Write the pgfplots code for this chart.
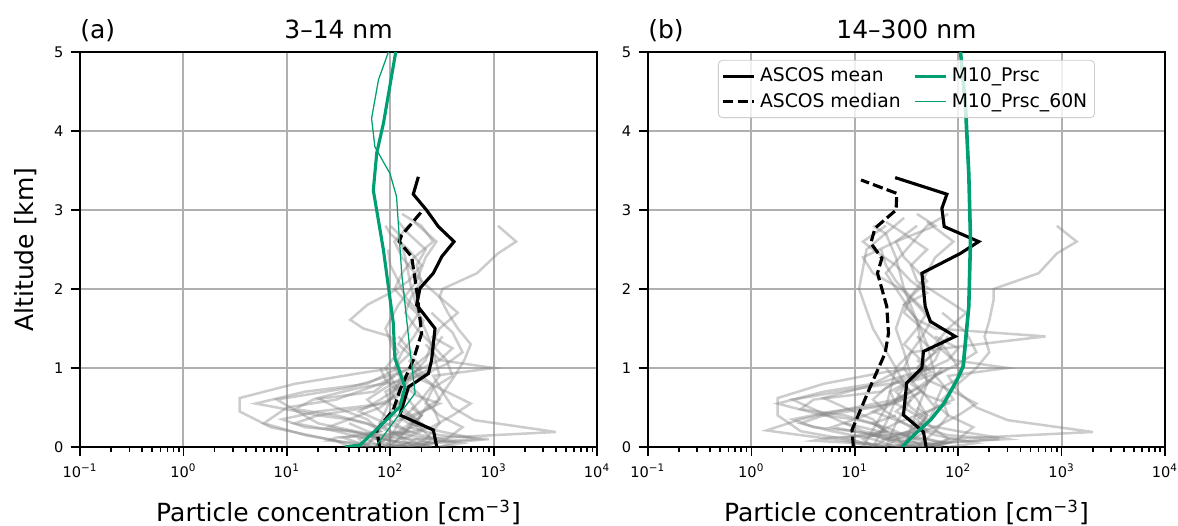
\documentclass[border=0pt]{standalone}
\usepackage{fontspec}
\setmainfont{DejaVu Sans}
\usepackage{pgfplots}
\pgfplotsset{compat=1.18}
\definecolor{mgreen}{RGB}{0,158,115}
\definecolor{gridgrey}{RGB}{176,176,176}

\newcommand\pw[1]{10\textsuperscript{#1}}

\tikzset{
  grl/.style={black!50, opacity=0.4, line width=1.2pt},
  meanl/.style={black, line width=1.5pt},
  medl/.style={black, line width=1.5pt, dash pattern=on 5pt off 2pt},
  mten/.style={mgreen, line width=1.5pt},
  msix/.style={mgreen, line width=0.6pt},
}
\pgfplotsset{
  scale only axis, width=248.2pt, height=189.6pt,
  xmin=0.1, xmax=10000, ymin=0, ymax=5,
  xtick={0.1,1,10,100,1000,10000},
  xticklabels={\pw{−1},\pw{0},\pw{1},\pw{2},\pw{3},\pw{4}},
  minor xtick={0.2,0.3,0.4,0.5,0.6,0.7,0.8,0.9,2,3,4,5,6,7,8,9,20,30,40,50,60,70,80,90,200,300,400,500,600,700,800,900,2000,3000,4000,5000,6000,7000,8000,9000},
  ytick={0,1,2,3,4,5}, yticklabels={0,1,2,3,4,5},
  xmajorgrids, ymajorgrids,
  grid style={gridgrey, line width=0.9pt},
  axis line style={black, line width=1pt},
  tick style={black, line width=0.8pt},
  tick align=outside, tick pos=left,
  major tick length=4.5pt, minor tick length=2.5pt,
  ticklabel style={font=\fontsize{7}{8}\selectfont},
  xlabel style={font=\fontsize{12}{14}\selectfont, at={(axis description cs:0.5,-0.165)}, anchor=center},
}

\begin{document}
\begin{tikzpicture}
\begin{axis}[xmode=log, at={(0,0)}, anchor=south west,
  xlabel={Particle concentration [cm\textsuperscript{−3}]},
  ylabel={Altitude [km]},
  ylabel style={font=\fontsize{12}{14}\selectfont, at={(axis description cs:-0.106,0.5)}, anchor=center}]
% individual flights
\addplot[grl, forget plot] coordinates {(150,0)(220,0.1)(300,0.3)(260,0.5)(330,0.7)(420,0.9)(520,1.1)(600,1.3)(450,1.5)(360,1.7)(300,1.9)(320,2.0)(690,2.2)(1100,2.45)(1650,2.6)(1100,2.8)};
\addplot[grl, forget plot] coordinates {(60,0)(25,0.1)(7,0.25)(3.5,0.45)(3.5,0.62)(12,0.8)(60,0.95)(110,1.0)(160,1.2)(120,1.4)};
\addplot[grl, forget plot] coordinates {(120,0)(180,0.1)(4000,0.19)(650,0.34)(400,0.5)(320,0.7)(260,0.9)(1000,1.0)(300,1.1)(220,1.3)};
\addplot[grl, forget plot] coordinates {(90,0)(70,0.15)(20,0.3)(8,0.6)(40,0.75)(130,0.95)(170,1.0)};
\addplot[grl, forget plot] coordinates {(100,0)(140,0.2)(200,0.4)(150,0.6)(110,0.8)(90,1.0)(120,1.2)(100,1.4)(55,1.5)(41,1.61)(60,1.8)(100,1.95)(150,2.1)(200,2.3)(150,2.5)(100,2.7)(90,2.8)};
\addplot[grl, forget plot] coordinates {(40,0)(30,0.08)(15,0.15)(6,0.3)(10,0.5)(30,0.6)(80,0.8)(150,1.0)};
\addplot[grl, forget plot] coordinates {(200,0)(250,0.1)(180,0.3)(220,0.5)(300,0.6)(250,0.8)(200,0.9)(350,1.05)(500,1.2)(400,1.45)(250,1.7)};
\addplot[grl, forget plot] coordinates {(300,0)(500,0.05)(200,0.15)(90,0.3)(50,0.45)(80,0.6)(120,0.75)(180,0.9)(250,1.0)};
\addplot[grl, forget plot] coordinates {(50,0)(70,0.1)(120,0.2)(180,0.35)(130,0.5)(100,0.7)(160,0.9)(220,1.1)(250,1.3)(180,1.5)(140,1.7)(160,1.9)(200,2.1)(130,2.4)(110,2.6)(150,2.8)};
\addplot[grl, forget plot] coordinates {(80,0)(60,0.1)(30,0.2)(12,0.3)(20,0.4)(60,0.5)(100,0.6)(150,0.7)};
\addplot[grl, forget plot] coordinates {(250,0)(180,0.05)(120,0.15)(250,0.25)(400,0.4)(600,0.55)(350,0.7)(200,0.85)(160,1.0)(250,1.2)(320,1.4)};
\addplot[grl, forget plot] coordinates {(150,0)(100,0.08)(40,0.2)(15,0.25)(9,0.35)(20,0.45)(90,0.55)(120,0.7)(90,0.85)(80,1.0)};
\addplot[grl, forget plot] coordinates {(70,0)(90,0.1)(150,0.2)(110,0.3)(80,0.45)(60,0.6)(90,0.75)(140,0.9)(200,1.0)(160,1.15)(120,1.3)(150,1.5)(190,1.7)(140,1.9)(120,2.1)(100,2.3)(95,2.5)};
\addplot[grl, forget plot] coordinates {(110,0)(160,0.05)(700,0.1)(300,0.2)(150,0.3)(100,0.45)(130,0.6)};
\addplot[grl, forget plot] coordinates {(60,0)(50,0.1)(80,0.2)(60,0.35)(30,0.5)(20,0.62)(50,0.75)(150,0.85)(250,0.95)};
\addplot[grl, forget plot] coordinates {(200,0)(350,0.1)(500,0.25)(300,0.4)(220,0.55)(260,0.75)(400,0.9)(350,1.1)(250,1.3)(300,1.5)(450,1.7)(300,1.9)(200,2.1)(180,2.3)(220,2.5)(150,2.7)(120,2.85)};
\addplot[grl, forget plot] coordinates {(90,0)(130,0.12)(80,0.25)(40,0.35)(20,0.4)(8,0.5)(5,0.55)(15,0.7)(60,0.8)(120,1.0)};
\addplot[grl, forget plot] coordinates {(130,0)(90,0.05)(60,0.15)(100,0.3)(200,0.45)(300,0.55)(180,0.65)(130,0.8)(170,0.95)(300,1.1)(400,1.25)(250,1.4)};
\addplot[grl, forget plot] coordinates {(100,0)(140,0.05)(90,0.1)(50,0.18)(25,0.25)(40,0.35)(80,0.5)(110,0.65)};
\addplot[grl, forget plot] coordinates {(170,0)(130,0.1)(200,0.2)(150,0.35)(250,0.5)(180,0.7)(130,0.85)(110,1.0)(130,1.2)(170,1.4)(210,1.6)(150,1.8)(110,2.0)(130,2.2)(170,2.4)(260,2.6)(200,2.8)(130,2.95)};
\addplot[grl, forget plot] coordinates {(70,0)(50,0.05)(35,0.12)(80,0.2)(60,0.3)(30,0.4)(12,0.48)(18,0.6)(70,0.7)(110,0.9)};
\addplot[grl, forget plot] coordinates {(250,0)(150,0.05)(80,0.1)(120,0.18)(200,0.3)(150,0.4)(100,0.55)(90,0.7)(140,0.85)(200,0.95)(150,1.1)};
\addplot[grl, forget plot] coordinates {(300,0)(400,0.05)(250,0.1)(150,0.15)(100,0.2)(80,0.3)(110,0.4)};
\addplot[grl, forget plot] coordinates {(130,0)(200,0.04)(600,0.08)(900,0.1)(300,0.15)(150,0.25)(200,0.4)(160,0.5)};
\addplot[grl, forget plot] coordinates {(90,0)(120,0.3)(200,0.6)(300,0.9)(250,1.3)(200,1.6)(160,2.0)(140,2.4)(120,2.7)(100,2.8)};
\addplot[grl, forget plot] coordinates {(200,0)(100,0.02)(50,0.05)(25,0.08)(30,0.12)(80,0.15)(150,0.2)};
\addplot[grl, forget plot] coordinates {(60,0)(80,0.3)(100,0.6)(130,0.9)(110,1.2)(90,1.5)(120,1.8)(180,2.1)(220,2.4)(280,2.6)(170,2.85)};
\addplot[grl, forget plot] coordinates {(150,0)(250,0.05)(180,0.1)(100,0.12)(60,0.2)(40,0.3)};
% ASCOS mean and median
\addplot[meanl, forget plot] coordinates {(282,0)(261,0.215)(124,0.405)(150,0.76)(234,0.93)(251,1.10)(271,1.50)(180,1.80)(194,2.01)(261,2.20)(315,2.41)(414,2.60)(292,2.79)(224,3.0)(167,3.20)(187,3.42)};
\addplot[medl, forget plot] coordinates {(79,0)(74,0.215)(107,0.47)(124,0.72)(167,1.10)(201,1.44)(180,1.99)(161,2.41)(122,2.60)(129,2.68)(201,2.98)};
% model
\addplot[msix, forget plot] coordinates {(74,0.025)(111,0.34)(174,0.68)(155,1.23)(129,2.20)(115,3.17)(99.5,3.46)(71,3.80)(66,4.16)(77,4.65)(96,5.0)};
\addplot[mten, forget plot] coordinates {(36.6,0)(51,0.025)(79,0.26)(124,0.51)(139,0.76)(111,1.12)(107,1.57)(86,2.49)(68.6,3.25)(74,3.72)(86,4.10)(113,5.0)};
\end{axis}
\node[anchor=base west, inner sep=0pt] at (0pt,196.3pt) {\fontsize{12}{14}\selectfont (a)};
\node[anchor=base, inner sep=0pt] at (124.1pt,196.3pt) {\fontsize{12}{14}\selectfont 3–14 nm};

\begin{axis}[xmode=log, at={(272.6pt,0)}, anchor=south west,
  xlabel={Particle concentration [cm\textsuperscript{−3}]},
  legend columns=2,
  legend cell align=left,
  legend image code/.code={\draw[#1] (0pt,0pt) -- (15pt,0pt);},
  legend style={at={(axis description cs:0.5,0.98)}, anchor=north,
    draw=black!20, rounded corners=2pt, fill=white, fill opacity=0.8, text opacity=1,
    font=\fontsize{9}{10}\selectfont, inner sep=1.5pt, nodes={inner sep=2pt},
    /tikz/every even column/.append style={column sep=4pt}}]
\addplot[grl, forget plot] coordinates {(40,0)(60,0.2)(80,0.4)(70,0.6)(100,0.8)(150,1.0)(200,1.2)(180,1.4)(200,1.6)(220,1.86)(220,2.0)(600,2.2)(900,2.45)(1400,2.6)(900,2.8)};
\addplot[grl, forget plot] coordinates {(20,0)(8,0.1)(3,0.2)(1.8,0.4)(1.8,0.62)(5,0.8)(20,0.95)(40,1.0)(60,1.2)(40,1.4)};
\addplot[grl, forget plot] coordinates {(50,0)(80,0.1)(2000,0.19)(300,0.34)(150,0.5)(100,0.7)(80,0.9)(300,1.0)(90,1.1)(70,1.3)};
\addplot[grl, forget plot] coordinates {(30,0)(25,0.15)(8,0.3)(2.5,0.6)(12,0.75)(40,0.95)(60,1.0)};
\addplot[grl, forget plot] coordinates {(30,0)(40,0.2)(50,0.4)(40,0.6)(30,0.8)(25,1.0)(35,1.2)(700,1.4)(60,1.5)(40,1.61)(30,1.8)(50,1.95)(35,2.1)(25,2.3)(15,2.5)(12,2.6)(20,2.8)};
\addplot[grl, forget plot] coordinates {(15,0)(8,0.08)(3,0.15)(1.4,0.21)(3,0.35)(10,0.5)(25,0.6)(50,0.8)(70,1.0)};
\addplot[grl, forget plot] coordinates {(60,0)(80,0.1)(50,0.3)(60,0.5)(90,0.6)(70,0.8)(60,0.9)(100,1.05)(150,1.2)(120,1.45)(70,1.7)};
\addplot[grl, forget plot] coordinates {(80,0)(150,0.05)(60,0.15)(30,0.3)(15,0.45)(25,0.6)(40,0.75)(60,0.9)(80,1.0)};
\addplot[grl, forget plot] coordinates {(15,0)(20,0.1)(35,0.2)(50,0.35)(35,0.5)(25,0.7)(40,0.9)(60,1.1)(70,1.3)(45,1.5)(30,1.7)(35,1.9)(50,2.1)(30,2.4)(25,2.6)(40,2.8)};
\addplot[grl, forget plot] coordinates {(25,0)(15,0.1)(6,0.2)(3,0.3)(5,0.4)(15,0.5)(30,0.6)(45,0.7)};
\addplot[grl, forget plot] coordinates {(70,0)(50,0.05)(30,0.15)(60,0.25)(100,0.4)(150,0.55)(90,0.7)(50,0.85)(40,1.0)(60,1.2)(80,1.4)};
\addplot[grl, forget plot] coordinates {(40,0)(25,0.08)(10,0.2)(4,0.25)(2.5,0.35)(6,0.45)(25,0.55)(35,0.7)(25,0.85)(20,1.0)};
\addplot[grl, forget plot] coordinates {(20,0)(25,0.1)(40,0.2)(30,0.3)(20,0.45)(15,0.6)(20,0.75)(35,0.9)(50,1.0)(40,1.15)(30,1.3)(40,1.5)(50,1.7)(35,1.9)(25,2.1)(20,2.3)(18,2.5)};
\addplot[grl, forget plot] coordinates {(30,0)(50,0.05)(300,0.1)(100,0.2)(40,0.3)(25,0.45)(35,0.6)};
\addplot[grl, forget plot] coordinates {(15,0)(12,0.1)(20,0.2)(15,0.35)(8,0.5)(5,0.62)(12,0.75)(40,0.85)(70,0.95)};
\addplot[grl, forget plot] coordinates {(60,0)(100,0.1)(140,0.25)(80,0.4)(60,0.55)(70,0.75)(110,0.9)(90,1.1)(60,1.3)(80,1.5)(120,1.7)(70,1.9)(40,2.1)(35,2.3)(50,2.5)(30,2.7)(20,2.85)};
\addplot[grl, forget plot] coordinates {(25,0)(35,0.12)(20,0.25)(10,0.35)(5,0.4)(2.5,0.5)(1.8,0.55)(5,0.7)(15,0.8)(30,1.0)};
\addplot[grl, forget plot] coordinates {(35,0)(25,0.05)(15,0.15)(25,0.3)(50,0.45)(80,0.55)(50,0.65)(35,0.8)(45,0.95)(80,1.1)(100,1.25)(60,1.4)};
\addplot[grl, forget plot] coordinates {(25,0)(40,0.05)(25,0.1)(12,0.18)(6,0.25)(10,0.35)(20,0.5)(30,0.65)};
\addplot[grl, forget plot] coordinates {(45,0)(35,0.1)(50,0.2)(40,0.35)(60,0.5)(45,0.7)(35,0.85)(30,1.0)(35,1.2)(45,1.4)(55,1.6)(40,1.8)(28,2.0)(15,2.2)(12,2.4)(25,2.6)(60,2.8)(40,2.95)};
\addplot[grl, forget plot] coordinates {(20,0)(12,0.05)(8,0.12)(20,0.2)(15,0.3)(8,0.4)(3,0.48)(4,0.6)(18,0.7)(30,0.9)};
\addplot[grl, forget plot] coordinates {(70,0)(40,0.05)(20,0.1)(30,0.18)(50,0.3)(40,0.4)(25,0.55)(22,0.7)(35,0.85)(55,0.95)(40,1.1)};
\addplot[grl, forget plot] coordinates {(12,0)(20,0.5)(25,1.0)(15,1.5)(11,2.0)(13,2.5)(30,2.9)};
\addplot[grl, forget plot] coordinates {(30,0)(50,0.8)(40,1.6)(20,2.2)(50,2.8)(80,2.95)};
\addplot[grl, forget plot] coordinates {(60,0)(80,0.05)(50,0.1)(30,0.15)(20,0.2)(15,0.3)(25,0.4)};
\addplot[grl, forget plot] coordinates {(40,0)(60,0.04)(150,0.08)(250,0.1)(80,0.15)(40,0.25)(50,0.4)(40,0.5)};
\addplot[grl, forget plot] coordinates {(20,0)(25,0.3)(35,0.6)(60,0.9)(50,1.3)(40,1.6)(30,2.0)(25,2.4)(20,2.7)(15,2.8)};
\addplot[grl, forget plot] coordinates {(50,0)(25,0.02)(10,0.05)(4,0.08)(6,0.12)(20,0.15)(40,0.2)};
\addplot[grl, forget plot] coordinates {(15,0)(20,0.3)(25,0.6)(35,0.9)(30,1.2)(25,1.5)(30,1.8)(45,2.1)(60,2.4)(90,2.6)(50,2.85)};
\addplot[grl, forget plot] coordinates {(40,0)(70,0.05)(50,0.1)(25,0.12)(12,0.2)(8,0.3)};
% ASCOS mean and median
\addplot[meanl, forget plot] coordinates {(49,0)(46.2,0.19)(29.6,0.405)(31.8,0.81)(44.6,1.00)(46.2,1.21)(93.8,1.40)(53.7,1.59)(48,1.78)(44.6,2.20)(105,2.45)(158,2.60)(73.3,2.79)(69.6,3.02)(77.8,3.20)(24.6,3.41)};
\addplot[medl, forget plot] coordinates {(9.7,0)(9.4,0.215)(14.1,0.76)(19.7,1.19)(21.2,1.44)(20.4,1.78)(16.6,2.20)(18.3,2.39)(14.3,2.58)(15.7,2.77)(25.1,3.0)(25.5,3.21)(11.5,3.38)};
% model
\addplot[mten, forget plot] coordinates {(28.6,0)(34.4,0.11)(53.7,0.34)(72.3,0.55)(97,0.85)(111,1.02)(126,1.78)(131,2.62)(126,3.46)(117,4.31)(105,5.0)};
\addplot[msix, forget plot] coordinates {(29.6,0)(35.6,0.11)(55.5,0.34)(74.8,0.55)(100,0.85)(115,1.02)(130,1.78)(135,2.62)(130,3.46)(121,4.31)(108,5.0)};
\addlegendimage{meanl}\addlegendentry{ASCOS mean}
\addlegendimage{mten}\addlegendentry{M10\_Prsc}
\addlegendimage{medl}\addlegendentry{ASCOS median}
\addlegendimage{msix}\addlegendentry{M10\_Prsc\_60N}
\end{axis}
\node[anchor=base west, inner sep=0pt] at (272.6pt,196.3pt) {\fontsize{12}{14}\selectfont (b)};
\node[anchor=base, inner sep=0pt] at (396.7pt,196.3pt) {\fontsize{12}{14}\selectfont 14–300 nm};
\pgfresetboundingbox
\useasboundingbox (-38.4pt,-37.44pt) rectangle (527.04pt,214.56pt);
\end{tikzpicture}
\end{document}
